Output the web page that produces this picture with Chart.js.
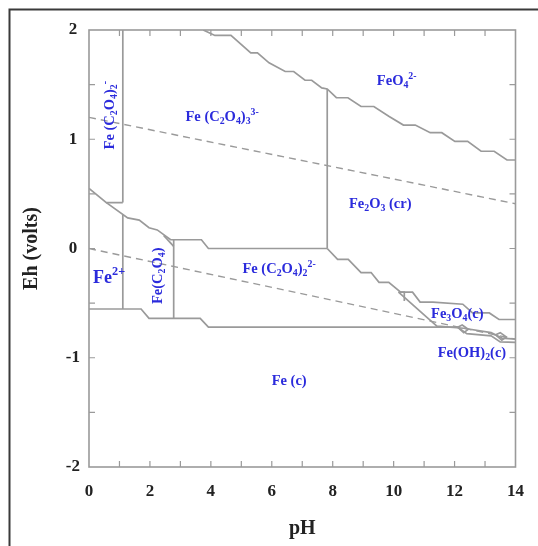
<!DOCTYPE html>
<html>
<head>
<meta charset="utf-8">
<script src="https://cdn.jsdelivr.net/npm/chart.js@4.4.1/dist/chart.umd.min.js"></script>
<style>
	html, body { margin: 0; padding: 0; background: #fff; }
	canvas { display: block; }
</style>
</head>
<body>
<canvas id="pourbaixChart" width="538" height="546"></canvas>
<script>
// Axis tick labels
const pHTicks = [ 0, 2, 4, 6, 8, 10, 12, 14 ];
const ehTicks = [ -2, -1, 0, 1, 2 ];

// Boundary lines, [ pH, Eh (volts) ]
const feo4Boundary = [ [ 3.75, 2.0 ], [ 4.13, 1.95 ], [ 4.66, 1.95 ], [ 5.31, 1.79 ], [ 5.53, 1.79 ], [ 5.91, 1.70 ], [ 6.44, 1.62 ], [ 6.72, 1.62 ], [ 7.09, 1.54 ], [ 7.31, 1.54 ], [ 7.64, 1.47 ], [ 7.82, 1.46 ], [ 8.12, 1.38 ], [ 8.50, 1.38 ], [ 8.93, 1.30 ], [ 9.35, 1.30 ], [ 9.84, 1.21 ], [ 10.32, 1.13 ], [ 10.71, 1.13 ], [ 11.20, 1.06 ], [ 11.58, 1.06 ], [ 12.01, 0.98 ], [ 12.43, 0.98 ], [ 12.87, 0.89 ], [ 13.30, 0.89 ], [ 13.72, 0.81 ], [ 14.0, 0.81 ] ];
const oxalate2Edge = [ [ 1.11, 2.0 ], [ 1.11, 0.42 ] ];
const fe2TopEdge = [ [ 0, 0.55 ], [ 0.57, 0.42 ], [ 1.11, 0.42 ] ];
const oxalate3Lower = [ [ 0.57, 0.42 ], [ 1.27, 0.28 ], [ 1.65, 0.26 ], [ 1.97, 0.19 ], [ 2.24, 0.17 ], [ 2.68, 0.08 ], [ 3.69, 0.08 ], [ 3.92, 0.0 ], [ 7.82, 0.0 ] ];
const oxalateNotch = [ [ 2.45, 0.12 ], [ 2.78, 0.02 ] ];
const fe2o3Left = [ [ 7.82, 1.46 ], [ 7.82, 0.0 ] ];
const feOxLeft = [ [ 1.11, 0.31 ], [ 1.11, -0.554 ] ];
const feOxRight = [ [ 2.78, 0.08 ], [ 2.78, -0.64 ] ];
const fe2o3Lower = [ [ 7.82, 0.0 ], [ 8.16, -0.10 ], [ 8.51, -0.10 ], [ 8.93, -0.22 ], [ 9.26, -0.22 ], [ 9.52, -0.31 ], [ 9.84, -0.31 ], [ 10.23, -0.40 ], [ 10.62, -0.40 ], [ 10.87, -0.49 ], [ 11.29, -0.49 ], [ 12.27, -0.51 ], [ 12.59, -0.59 ], [ 13.14, -0.59 ], [ 13.46, -0.65 ], [ 14.0, -0.65 ] ];
const fe3o4Left = [ [ 10.16, -0.40 ], [ 11.13, -0.64 ], [ 11.42, -0.71 ], [ 11.85, -0.72 ] ];
const fe3o4Notch = [ [ 10.16, -0.40 ], [ 10.35, -0.40 ], [ 10.35, -0.48 ] ];
const feMetalTop = [ [ 0, -0.554 ], [ 1.71, -0.554 ], [ 1.97, -0.64 ], [ 3.65, -0.64 ], [ 3.92, -0.72 ], [ 12.10, -0.72 ], [ 12.40, -0.78 ], [ 13.20, -0.80 ], [ 13.50, -0.855 ], [ 14.0, -0.86 ] ];
const fe3o4Lower = [ [ 11.85, -0.72 ], [ 12.30, -0.73 ], [ 13.20, -0.77 ], [ 13.55, -0.82 ], [ 14.0, -0.83 ] ];
const hydroxideBoxA = [ [ 12.10, -0.72 ], [ 12.25, -0.70 ], [ 12.45, -0.74 ], [ 12.30, -0.77 ], [ 12.10, -0.72 ] ];
const hydroxideBoxB = [ [ 13.35, -0.79 ], [ 13.50, -0.77 ], [ 13.70, -0.81 ], [ 13.55, -0.84 ], [ 13.35, -0.79 ] ];
const waterUpper = [ [ 0, 1.20 ], [ 14, 0.41 ] ];
const waterLower = [ [ 0, 0.0 ], [ 14, -0.83 ] ];

// Region names, _ = subscript, ^ = superscript
const regionLabels = [
	{ text: 'Fe (C_2O_4)_2^-', pH: 0.66, eh: 1.22, vertical: true },
	{ text: 'Fe (C_2O_4)_3^{3-}', pH: 4.37, eh: 1.21 },
	{ text: 'FeO_4^{2-}', pH: 10.1, eh: 1.54 },
	{ text: 'Fe_2O_3 (cr)', pH: 9.56, eh: 0.42 },
	{ text: 'Fe^{2+}', pH: 0.66, eh: -0.26, big: true },
	{ text: 'Fe(C_2O_4)', pH: 2.24, eh: -0.25, vertical: true },
	{ text: 'Fe (C_2O_4)_2^{2-}', pH: 6.24, eh: -0.18 },
	{ text: 'Fe_3O_4(c)', pH: 12.09, eh: -0.59 },
	{ text: 'Fe(OH)_2(c)', pH: 12.57, eh: -0.945 },
	{ text: 'Fe (c)', pH: 6.57, eh: -1.2 },
];

const SERIF = '"Liberation Serif", "Times New Roman", serif';
const LINE_GREY = '#9a9a9a';

function boundary( points, dashed ) {
	return {
		data: points.map( ( p ) => ( { x: p[ 0 ], y: p[ 1 ] } ) ),
		showLine: true,
		pointRadius: 0,
		borderColor: LINE_GREY,
		borderWidth: dashed ? 1.4 : 1.7,
		borderDash: dashed ? [ 7, 5 ] : [],
		tension: 0,
	};
}

function parseMarkup( str ) {
	const parts = [];
	let buf = '';
	let i = 0;
	while ( i < str.length ) {
		const c = str[ i ];
		if ( c === '_' || c === '^' ) {
			if ( buf ) {
				parts.push( { text: buf, mode: 0 } );
				buf = '';
			}
			let t;
			if ( str[ i + 1 ] === '{' ) {
				const j = str.indexOf( '}', i );
				t = str.slice( i + 2, j );
				i = j + 1;
			} else {
				t = str[ i + 1 ];
				i += 2;
			}
			parts.push( { text: t, mode: c === '_' ? -1 : 1 } );
		} else {
			buf += c;
			i++;
		}
	}
	if ( buf ) {
		parts.push( { text: buf, mode: 0 } );
	}
	return parts;
}

function drawRichText( ctx, markup, x, y, size, vertical ) {
	const parts = parseMarkup( markup );
	let width = 0;
	parts.forEach( ( p ) => {
		p.size = p.mode === 0 ? size : size * 0.68;
		ctx.font = 'bold ' + p.size + 'px ' + SERIF;
		p.w = ctx.measureText( p.text ).width;
		width += p.w;
	} );
	ctx.save();
	ctx.translate( x, y );
	if ( vertical ) {
		ctx.rotate( -Math.PI / 2 );
	}
	ctx.textBaseline = 'alphabetic';
	ctx.textAlign = 'left';
	let cx = -width / 2;
	const base = size * 0.34;
	parts.forEach( ( p ) => {
		ctx.font = 'bold ' + p.size + 'px ' + SERIF;
		let dy = 0;
		if ( p.mode === -1 ) dy = size * 0.22;
		if ( p.mode === 1 ) dy = -size * 0.42;
		ctx.fillText( p.text, cx, base + dy );
		cx += p.w;
	} );
	ctx.restore();
}

// Frame, inward ticks and region names
const decorations = {
	id: 'decorations',
	beforeDraw( chart ) {
		const ctx = chart.ctx;
		ctx.save();
		ctx.fillStyle = '#fff';
		ctx.fillRect( 0, 0, chart.width, chart.height );
		ctx.strokeStyle = '#3a3a3a';
		ctx.lineWidth = 2;
		ctx.beginPath();
		ctx.moveTo( 9.5, chart.height );
		ctx.lineTo( 9.5, 9.5 );
		ctx.lineTo( chart.width, 9.5 );
		ctx.stroke();
		ctx.restore();
	},
	afterDraw( chart ) {
		const ctx = chart.ctx;
		const xs = chart.scales.x;
		const ys = chart.scales.y;
		const { left, right, top, bottom } = chart.chartArea;
		ctx.save();
		ctx.strokeStyle = LINE_GREY;
		ctx.lineWidth = 1.6;
		ctx.strokeRect( left, top, right - left, bottom - top );
		ctx.lineWidth = 1.2;
		ctx.beginPath();
		for ( let v = xs.min + 1; v < xs.max; v += 1 ) {
			const px = xs.getPixelForValue( v );
			ctx.moveTo( px, bottom );
			ctx.lineTo( px, bottom - 6 );
			ctx.moveTo( px, top );
			ctx.lineTo( px, top + 6 );
		}
		for ( let v = ys.min + 0.5; v < ys.max; v += 0.5 ) {
			const py = ys.getPixelForValue( v );
			ctx.moveTo( left, py );
			ctx.lineTo( left + 6, py );
			ctx.moveTo( right, py );
			ctx.lineTo( right - 6, py );
		}
		ctx.stroke();

		ctx.fillStyle = '#2b2bdc';
		regionLabels.forEach( ( l ) => {
			drawRichText(
				ctx,
				l.text,
				xs.getPixelForValue( l.pH ),
				ys.getPixelForValue( l.eh ),
				l.big ? 18 : 14.5,
				l.vertical
			);
		} );
		ctx.restore();
	},
};

const ctx = document.getElementById( 'pourbaixChart' ).getContext( '2d' );

new Chart( ctx, {
	type: 'scatter',
	data: {
		datasets: [
			boundary( waterUpper, true ),
			boundary( waterLower, true ),
			boundary( feo4Boundary ),
			boundary( oxalate2Edge ),
			boundary( fe2TopEdge ),
			boundary( oxalate3Lower ),
			boundary( oxalateNotch ),
			boundary( fe2o3Left ),
			boundary( feOxLeft ),
			boundary( feOxRight ),
			boundary( fe2o3Lower ),
			boundary( fe3o4Left ),
			boundary( fe3o4Notch ),
			boundary( feMetalTop ),
			boundary( fe3o4Lower ),
			boundary( hydroxideBoxA ),
			boundary( hydroxideBoxB ),
		],
	},
	options: {
		responsive: false,
		animation: false,
		layout: {
			padding: { top: 30, right: 16.5, bottom: 0, left: 0 },
		},
		plugins: {
			legend: { display: false },
			tooltip: { enabled: false },
		},
		scales: {
			x: {
				type: 'linear',
				min: 0,
				max: 14,
				afterBuildTicks: ( scale ) => {
					scale.ticks = pHTicks.map( ( v ) => ( { value: v } ) );
				},
				afterFit: ( scale ) => {
					scale.height = 79;
				},
				grid: { display: false, drawTicks: false },
				border: { display: false },
				ticks: {
					padding: 14,
					color: '#222',
					font: { family: SERIF, size: 17, weight: 'bold' },
				},
				title: {
					display: true,
					text: 'pH',
					color: '#222',
					padding: { top: 0, bottom: 5 },
					font: { family: SERIF, size: 20, weight: 'bold' },
				},
			},
			y: {
				type: 'linear',
				min: -2,
				max: 2,
				afterBuildTicks: ( scale ) => {
					scale.ticks = ehTicks.map( ( v ) => ( { value: v } ) );
				},
				afterFit: ( scale ) => {
					scale.width = 89;
				},
				grid: { display: false, drawTicks: false },
				border: { display: false },
				ticks: {
					padding: 9,
					crossAlign: 'center',
					color: '#222',
					font: { family: SERIF, size: 17, weight: 'bold' },
				},
				title: {
					display: true,
					text: 'Eh (volts)',
					color: '#222',
					padding: { top: 20, bottom: 0 },
					font: { family: SERIF, size: 20, weight: 'bold' },
				},
			},
		},
	},
	plugins: [ decorations ],
} );
</script>
</body>
</html>
